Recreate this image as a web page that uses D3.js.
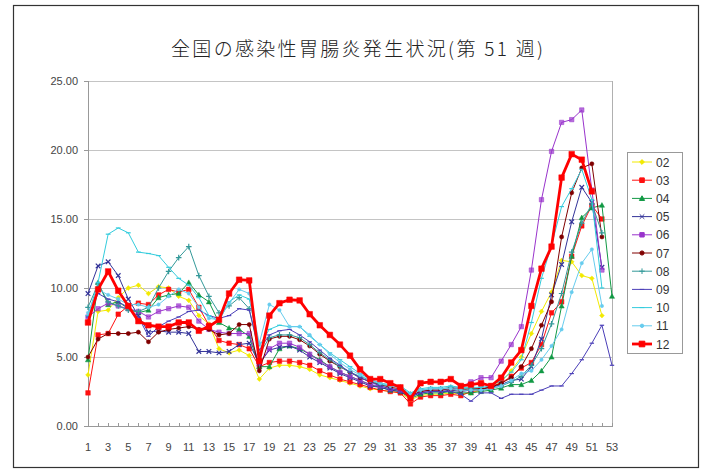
<!DOCTYPE html>
<html>
<head>
<meta charset="utf-8">
<title>感染性胃腸炎</title>
<script src="https://cdn.jsdelivr.net/npm/d3@7"></script>
<style>
  body { margin: 0; background: #fff; }
  svg { display: block; font-family: "Liberation Sans", Arial, sans-serif; }
  .grid line { stroke: #c4c4c4; stroke-width: 1px; shape-rendering: crispEdges; }
  .axis path, .axis line { stroke: #999; shape-rendering: crispEdges; }
  .axis text { fill: #444; font-size: 11px; }
  .title { font-family: "Noto Sans CJK JP", sans-serif; font-size: 19px; font-weight: 300; fill: #222; }
  .legend text { font-size: 12px; fill: #333; }
  .series path.line { fill: none; }
</style>
</head>
<body>
<svg width="705" height="470"></svg>
<script>
// weeks and tick labels
var weeks = d3.range(1, 54);
var xTickLabels = d3.range(1, 54, 2);
var yTicks = [0, 5, 10, 15, 20, 25];

// per-sentinel values, one array per year
var s02 = [3.7, 8.3, 8.4, 9.3, 10.0, 10.2, 9.6, 10.1, 10.0, 9.4, 9.1, 8.0, 7.4, 5.6, 5.3, 5.5, 5.1, 3.4, 4.2, 4.4,
  4.4, 4.3, 4.1, 3.7, 3.5, 3.3, 3.1, 2.9, 2.7, 2.6, 2.5, 2.4, 1.9, 2.2, 2.3, 2.3, 2.4, 2.3, 2.4, 2.6,
  2.8, 3.2, 4.0, 5.0, 6.7, 8.3, 9.7, 12.0, 11.9, 10.9, 10.7, 8.0];
var s03 = [2.4, 6.6, 6.7, 8.1, 8.7, 8.9, 8.8, 9.5, 9.9, 9.7, 9.9, 8.6, 7.3, 6.2, 6.0, 5.9, 5.6, 4.3, 4.6, 4.7,
  4.7, 4.6, 4.4, 4.0, 3.7, 3.4, 3.2, 3.0, 2.8, 2.6, 2.5, 2.4, 1.6, 2.1, 2.2, 2.2, 2.3, 2.2, 2.5, 2.6,
  2.9, 3.1, 3.6, 4.2, 4.6, 5.9, 8.2, 9.0, 12.3, 14.5, 16.0, 15.0];
var s04 = [4.8, 10.4, 8.8, 9.0, 8.5, 8.2, 8.4, 9.3, 9.5, 9.6, 10.4, 9.5, 9.0, 7.5, 7.1, 7.0, 6.5, 4.3, 4.3, 5.6,
  5.8, 5.6, 5.2, 4.8, 4.3, 3.9, 3.6, 3.3, 3.0, 2.8, 2.6, 2.5, 2.0, 2.3, 2.4, 2.4, 2.5, 2.4, 2.4, 2.5,
  2.6, 2.75, 3.0, 3.0, 3.3, 4.0, 5.0, 8.7, 12.3, 15.1, 15.8, 16.0, 9.4];
var s05 = [9.6, 11.6, 11.9, 10.9, 9.2, 8.0, 6.8, 6.9, 6.8, 6.8, 6.7, 5.4, 5.4, 5.3, 5.4, 5.9, 6.0, 4.5, 5.5, 5.7,
  5.8, 5.5, 5.0, 4.6, 4.2, 3.8, 3.5, 3.2, 2.9, 2.8, 2.6, 2.5, 2.1, 2.4, 2.5, 2.5, 2.6, 2.5, 2.6, 2.7,
  2.8, 3.0, 3.3, 3.4, 4.3, 6.3, 9.5, 11.7, 14.8, 17.3, 16.2, 11.5];
var s06 = [7.9, 8.5, 8.9, 8.7, 8.5, 8.3, 7.9, 8.3, 8.5, 8.7, 8.6, 7.6, 7.0, 6.8, 6.7, 6.7, 6.7, 4.5, 5.6, 6.0,
  6.0, 5.7, 5.2, 4.7, 4.3, 3.9, 3.6, 3.3, 3.0, 2.9, 2.7, 2.6, 2.2, 2.5, 2.6, 2.6, 2.7, 2.8, 3.2, 3.5,
  3.5, 4.7, 5.9, 7.2, 11.3, 16.4, 19.9, 22.0, 22.2, 22.9, 17.1, 11.3];
var s07 = [5.0, 6.3, 6.7, 6.7, 6.7, 6.8, 6.1, 6.8, 7.0, 7.1, 7.2, 7.0, 7.0, 6.6, 6.7, 7.35, 7.35, 4.0, 6.3, 6.5,
  6.5, 6.25, 5.8, 5.2, 4.7, 4.3, 3.9, 3.5, 3.2, 3.0, 2.8, 2.7, 2.2, 2.5, 2.6, 2.6, 2.7, 2.6, 2.7, 2.7,
  2.8, 3.1, 3.5, 4.3, 5.6, 7.3, 9.0, 13.7, 16.9, 18.7, 19.0, 13.7];
var s08 = [8.6, 10.3, 9.0, 8.7, 8.4, 8.3, 8.6, 10.0, 11.2, 12.2, 13.0, 10.9, 9.4, 8.2, 8.7, 9.3, 8.5, 5.2, 6.4, 6.6,
  6.6, 6.4, 5.9, 5.3, 4.8, 4.3, 3.9, 3.6, 3.3, 3.0, 2.9, 2.8, 2.3, 2.6, 2.7, 2.7, 2.8, 2.7, 2.7, 2.6,
  2.7, 2.9, 3.2, 3.6, 4.4, 5.6, 7.4, 9.6, 12.6, 14.7, 16.1, 14.0];
var s09 = [7.9, 9.6, 9.2, 9.0, 8.6, 7.9, 6.5, 7.2, 7.6, 7.9, 8.3, 8.4, 8.0, 7.8, 8.0, 8.5, 8.4, 5.5, 6.6, 6.9,
  7.0, 6.6, 6.1, 5.5, 4.9, 4.4, 3.9, 3.5, 3.2, 2.9, 2.7, 2.6, 2.2, 2.4, 2.5, 2.5, 2.5, 2.3, 1.8, 2.4,
  2.4, 2.0, 2.3, 2.3, 2.3, 2.6, 2.9, 2.9, 3.8, 4.8, 6.0, 7.3, 4.4];
var s10 = [8.0, 10.4, 13.9, 14.35, 14.0, 12.6, 12.5, 12.35, 11.5, 10.7, 10.2, 9.3, 8.0, 7.6, 9.0, 9.5, 9.2, 5.8, 7.0, 7.3,
  7.2, 7.2, 6.5, 5.9, 5.3, 4.8, 4.3, 3.8, 3.4, 3.1, 3.0, 2.9, 2.4, 2.7, 2.8, 2.8, 2.9, 2.8, 2.8, 2.8,
  2.9, 3.3, 3.9, 4.8, 7.5, 10.7, 13.1, 15.9, 17.2, 18.6, 16.4, 10.0];
var s11 = [8.2, 9.9, 9.5, 9.2, 8.8, 8.8, 8.6, 8.8, 9.4, 9.9, 9.6, 8.6, 7.8, 7.7, 8.9, 9.9, 9.6, 6.0, 8.8, 8.4,
  7.2, 7.2, 6.6, 5.9, 5.2, 4.6, 4.1, 3.7, 3.3, 3.1, 2.9, 2.8, 2.3, 2.6, 2.7, 2.7, 2.7, 2.6, 2.6, 2.6,
  2.7, 2.9, 3.3, 3.8, 4.0, 4.8, 5.8, 7.0, 9.7, 11.8, 12.8, 8.7];
var s12 = [7.5, 9.9, 11.2, 9.8, 8.7, 7.6, 7.3, 7.2, 7.2, 7.5, 7.5, 6.9, 7.2, 7.7, 9.6, 10.6, 10.55, 4.7, 8.0, 8.9,
  9.15, 9.1, 8.1, 7.3, 6.6, 5.9, 5.1, 4.1, 3.4, 3.4, 3.1, 2.8, 2.0, 3.1, 3.2, 3.2, 3.4, 2.9, 3.0, 3.1,
  2.9, 3.5, 4.6, 5.5, 8.7, 11.4, 13.0, 18.0, 19.7, 19.3, 17.0];

var seriesNames = ["02", "03", "04", "05", "06", "07", "08", "09", "10", "11", "12"];
var seriesValues = [s02, s03, s04, s05, s06, s07, s08, s09, s10, s11, s12];

// styles
var seriesColors = ["#F2EA00", "#FF1010", "#119944", "#333399", "#9933CC", "#800000", "#339999", "#4B3FB8", "#33CCDD", "#66CCEE", "#FF0000"];
var seriesMarkers = ["diamond", "square", "triangle", "x", "square", "circle", "plus", "dash", "dash", "circle", "square"];
var seriesWidths = [1, 1, 1, 1, 1, 1, 1, 1, 1, 1, 2.8];
var markerSizes = [2.4, 2.3, 2.6, 2.3, 2.2, 2.1, 2.8, 2.2, 2.4, 1.7, 2.8];

var svg = d3.select("svg"),
  plot = { left: 88, top: 81, right: 612, bottom: 426 };

var x = d3.scaleLinear().domain([1, 53]).range([plot.left, plot.right]);
var y = d3.scaleLinear().domain([0, 25]).range([plot.bottom, plot.top]);

// outer frame
svg.append("rect")
  .attr("x", 13.5).attr("y", 5.5)
  .attr("width", 685).attr("height", 462)
  .attr("fill", "#fff").attr("stroke", "#333").attr("stroke-width", 1.2);

svg.append("text")
  .attr("class", "title")
  .attr("x", 171).attr("y", 56)
  .attr("textLength", 372).attr("lengthAdjust", "spacing")
  .text("全国の感染性胃腸炎発生状況(第 51 週)");

// gridlines
svg.append("g")
  .attr("class", "grid")
  .selectAll("line")
  .data(yTicks.slice(1))
  .enter().append("line")
  .attr("x1", plot.left).attr("x2", plot.right)
  .attr("y1", function(d) { return Math.round(y(d)) + 0.5; })
  .attr("y2", function(d) { return Math.round(y(d)) + 0.5; });

// right border of plot area
svg.append("line")
  .attr("x1", plot.right + 0.5).attr("x2", plot.right + 0.5)
  .attr("y1", plot.top).attr("y2", plot.bottom)
  .attr("stroke", "#b0b0b0");

// y axis
var yAxis = svg.append("g")
  .attr("class", "axis")
  .attr("transform", "translate(" + plot.left + ",0)")
  .call(d3.axisLeft(y).tickValues(yTicks).tickSize(4).tickFormat(d3.format(".2f")));
yAxis.selectAll("text").attr("x", -10);

// x axis: a tick every week, label every other week
var xAxis = svg.append("g")
  .attr("class", "axis")
  .attr("transform", "translate(0," + plot.bottom + ")")
  .call(d3.axisBottom(x).tickValues(weeks).tickSize(-3).tickSizeOuter(0).tickFormat(""));
xAxis.selectAll(".tick line").attr("stroke", "#999");

svg.append("g")
  .attr("class", "axis")
  .selectAll("text")
  .data(xTickLabels)
  .enter().append("text")
  .attr("x", function(d) { return x(d); })
  .attr("y", 451)
  .attr("text-anchor", "middle")
  .text(function(d) { return d; });

// marker shapes
function markerPath(type, r) {
  switch (type) {
    case "diamond": return "M0," + (-r) + "L" + r + ",0L0," + r + "L" + (-r) + ",0Z";
    case "square": return "M" + (-r) + "," + (-r) + "h" + 2 * r + "v" + 2 * r + "h" + (-2 * r) + "Z";
    case "triangle": return "M0," + (-r) + "L" + r + "," + r * 0.8 + "L" + (-r) + "," + r * 0.8 + "Z";
    case "circle": return d3.symbol(d3.symbolCircle, Math.PI * r * r)();
    case "x": return "M" + (-r) + "," + (-r) + "L" + r + "," + r + "M" + (-r) + "," + r + "L" + r + "," + (-r);
    case "plus": return "M" + (-r) + ",0H" + r + "M0," + (-r) + "V" + r;
    case "dash": return "M" + (-r) + ",0H" + r;
  }
}
function isFilled(type) {
  return ["diamond", "square", "triangle", "circle"].indexOf(type) >= 0;
}

var line = d3.line()
  .x(function(d, i) { return x(weeks[i]); })
  .y(function(d) { return y(d); });

var series = svg.append("g")
  .selectAll("g")
  .data(seriesValues)
  .enter().append("g")
  .attr("class", "series");

series.append("path")
  .attr("class", "line")
  .attr("stroke", function(d, i) { return seriesColors[i]; })
  .attr("stroke-width", function(d, i) { return seriesWidths[i]; })
  .attr("stroke-linejoin", "round")
  .attr("d", line);

series.each(function(vals, i) {
  var filled = isFilled(seriesMarkers[i]);
  d3.select(this).selectAll(".mark")
    .data(vals)
    .enter().append("path")
    .attr("class", "mark")
    .attr("transform", function(d, j) { return "translate(" + x(weeks[j]) + "," + y(d) + ")"; })
    .attr("d", markerPath(seriesMarkers[i], markerSizes[i]))
    .attr("fill", filled ? seriesColors[i] : "none")
    .attr("fill-opacity", i === 4 ? 0.7 : 1)
    .attr("stroke", seriesColors[i])
    .attr("stroke-width", filled ? 0.5 : 1.2);
});

// legend
var legend = svg.append("g").attr("class", "legend");
legend.append("rect")
  .attr("x", 627.5).attr("y", 152.5)
  .attr("width", 55).attr("height", 201)
  .attr("fill", "#fff").attr("stroke", "#999");

var item = legend.selectAll(".item")
  .data(seriesNames)
  .enter().append("g")
  .attr("class", "item")
  .attr("transform", function(d, i) { return "translate(0," + (162 + i * 18.2) + ")"; });

item.append("line")
  .attr("x1", 632).attr("x2", 652)
  .attr("stroke", function(d, i) { return seriesColors[i]; })
  .attr("stroke-width", function(d, i) { return seriesWidths[i]; });

item.append("path")
  .attr("transform", "translate(642,0)")
  .attr("d", function(d, i) { return markerPath(seriesMarkers[i], markerSizes[i]); })
  .attr("fill", function(d, i) { return isFilled(seriesMarkers[i]) ? seriesColors[i] : "none"; })
  .attr("stroke", function(d, i) { return seriesColors[i]; })
  .attr("stroke-width", 1);

item.append("text")
  .attr("x", 656).attr("y", 4.5)
  .text(function(d) { return d; });
</script>
</body>
</html>
